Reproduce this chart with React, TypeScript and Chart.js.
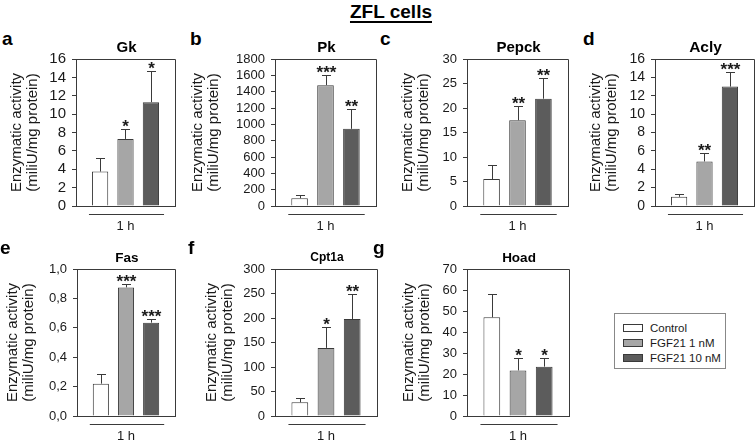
import React, { useEffect, useRef } from 'react';
import { Chart, registerables } from 'chart.js';

Chart.register(...registerables);
Chart.defaults.font.family = "'Liberation Sans', Arial, Helvetica, sans-serif";

// ---------------- data ----------------
const categories = ['1 h'];
const groupNames = ['Control', 'FGF21 1 nM', 'FGF21 10 nM'];
const groupFills = ['#ffffff', '#a6a6a6', '#5c5c5c'];

const gkMean = [3.75, 7.3, 11.3];
const gkErr = [1.5, 1.1, 3.4];
const gkSig = ['', '*', '*'];

const pkMean = [95, 1480, 945];
const pkErr = [35, 130, 245];
const pkSig = ['', '***', '**'];

const pepckMean = [5.5, 17.5, 21.9];
const pepckErr = [2.8, 3.0, 4.2];
const pepckSig = ['', '**', '**'];

const aclyMean = [1.0, 4.85, 13.0];
const aclyErr = [0.3, 0.9, 1.6];
const aclySig = ['', '**', '***'];

const fasMean = [0.22, 0.875, 0.635];
const fasErr = [0.065, 0.025, 0.025];
const fasSig = ['', '***', '***'];

const cptMean = [28, 139, 198];
const cptErr = [9, 42, 51];
const cptSig = ['', '*', '**'];

const hoadMean = [47, 21.7, 23.5];
const hoadErr = [11.2, 6, 4.3];
const hoadSig = ['', '*', '*'];

const yTitle = ['Enzymatic activity', '(miliU/mg protein)'];
const mainTitle = 'ZFL cells';

// ---------------- layout ----------------
const AXIS = '#3a3a3a';
const TXT = '#1a1a1a';
const FONT = "'Liberation Sans', Arial, Helvetica, sans-serif";

type Panel = {
  letter: string; lx: number; ly: number;
  title: string; mean: number[]; err: number[]; sig: string[];
  max: number; step: number; comma?: boolean;
  L: number; T: number; R: number; B: number; titleX: number;
  tick: number; titleSize: number;
};

const panels: Panel[] = [
  { letter: 'a', lx: 2, ly: 29, title: 'Gk', mean: gkMean, err: gkErr, sig: gkSig, max: 16, step: 2,
    L: 76, T: 59, R: 175, B: 206, titleX: 17, tick: 15, titleSize: 15 },
  { letter: 'b', lx: 190, ly: 29, title: 'Pk', mean: pkMean, err: pkErr, sig: pkSig, max: 1800, step: 200,
    L: 275, T: 59, R: 376, B: 206, titleX: 198, tick: 13, titleSize: 15 },
  { letter: 'c', lx: 380, ly: 29, title: 'Pepck', mean: pepckMean, err: pepckErr, sig: pepckSig, max: 30, step: 5,
    L: 467, T: 59, R: 568, B: 206, titleX: 408, tick: 13, titleSize: 15 },
  { letter: 'd', lx: 583, ly: 29, title: 'Acly', mean: aclyMean, err: aclyErr, sig: aclySig, max: 16, step: 2,
    L: 655, T: 59, R: 754, B: 206, titleX: 596, tick: 14, titleSize: 15.5 },
  { letter: 'e', lx: 0, ly: 238, title: 'Fas', mean: fasMean, err: fasErr, sig: fasSig, max: 1, step: 0.2, comma: true,
    L: 77, T: 269, R: 175, B: 416, titleX: 13, tick: 13, titleSize: 13.5 },
  { letter: 'f', lx: 188, ly: 238, title: 'Cpt1a', mean: cptMean, err: cptErr, sig: cptSig, max: 300, step: 50,
    L: 275, T: 269, R: 377, B: 416, titleX: 212, tick: 13, titleSize: 12 },
  { letter: 'g', lx: 373, ly: 238, title: 'Hoad', mean: hoadMean, err: hoadErr, sig: hoadSig, max: 70, step: 10,
    L: 467, T: 269, R: 569, B: 416, titleX: 409, tick: 13, titleSize: 13.5 },
];

const TOP_PAD = 30;
const BOTTOM_PAD = 36;
const RIGHT_PAD = 4;

function extrasPlugin(p: Panel) {
  return {
    id: 'extras',
    afterDatasetsDraw(chart: any) {
      const ctx = chart.ctx;
      const ys = chart.scales.y;
      const { left, right, top, bottom } = chart.chartArea;
      ctx.save();
      ctx.strokeStyle = AXIS;
      ctx.lineWidth = 1;
      // frame top + right
      ctx.beginPath();
      ctx.moveTo(Math.round(left), Math.round(top) + 0.5);
      ctx.lineTo(Math.round(right) + 0.5, Math.round(top) + 0.5);
      ctx.lineTo(Math.round(right) + 0.5, Math.round(bottom));
      ctx.stroke();
      // panel title centred over the plot area
      ctx.font = `bold ${p.titleSize}px ${FONT}`;
      ctx.fillStyle = '#000';
      ctx.textAlign = 'center';
      ctx.textBaseline = 'middle';
      ctx.fillText(p.title, (left + right) / 2 + 1, top - 11);
      // error bars + significance
      chart.data.datasets.forEach((ds: any, i: number) => {
        const meta = chart.getDatasetMeta(i);
        meta.data.forEach((bar: any, j: number) => {
          const v = ds.data[j];
          const e = p.err[i];
          const x = Math.round(bar.x) + 0.5;
          const yTop = Math.round(ys.getPixelForValue(v + e)) + 0.5;
          const yBar = ys.getPixelForValue(v);
          ctx.beginPath();
          ctx.moveTo(x, yBar);
          ctx.lineTo(x, yTop);
          ctx.moveTo(x - 4.5, yTop);
          ctx.lineTo(x + 4.5, yTop);
          ctx.stroke();
          const s = p.sig[i];
          if (s) {
            const fs = 17;
            ctx.font = `bold ${fs}px ${FONT}`;
            ctx.fillStyle = TXT;
            ctx.textAlign = 'center';
            ctx.textBaseline = 'alphabetic';
            ctx.fillText(s, x, yTop + 2);
          }
        });
      });
      // underline below the group
      const m0 = chart.getDatasetMeta(0).data[0];
      const m2 = chart.getDatasetMeta(chart.data.datasets.length - 1).data[0];
      const x0 = m0.x - m0.width / 2 - 3;
      const x1 = m2.x + m2.width / 2 + 5;
      const yl = Math.round(bottom + 8) + 0.5;
      ctx.beginPath();
      ctx.moveTo(x0, yl);
      ctx.lineTo(x1, yl);
      ctx.stroke();
      ctx.restore();
    },
  };
}

function PanelChart({ p }: { p: Panel }) {
  const ref = useRef<HTMLCanvasElement>(null);
  const left = p.titleX - 10;
  const top = p.T - TOP_PAD;
  const width = p.R - left + RIGHT_PAD;
  const height = p.B - p.T + TOP_PAD + BOTTOM_PAD;
  const yW = p.L - left;

  useEffect(() => {
    if (!ref.current) return;
    const chart = new Chart(ref.current, {
      type: 'bar',
      data: {
        labels: categories,
        datasets: groupNames.map((name, i) => ({
          label: name,
          data: [p.mean[i]],
          backgroundColor: groupFills[i],
          borderColor: AXIS,
          borderWidth: 1,
          categoryPercentage: 0.77,
          barPercentage: 0.64,
        })),
      },
      options: {
        responsive: false,
        animation: false,
        devicePixelRatio: 1,
        layout: { padding: { left: 0, right: RIGHT_PAD, top: TOP_PAD, bottom: 0 } },
        plugins: {
          legend: { display: false },
          tooltip: { enabled: false },
          title: { display: false },
        },
        scales: {
          x: {
            grid: { display: false, drawTicks: false },
            border: { display: true, color: AXIS, width: 1 },
            ticks: { color: TXT, font: { size: 13 }, padding: 13 },
            afterFit: (s: any) => { s.height = BOTTOM_PAD; },
          },
          y: {
            min: 0,
            max: p.max,
            grid: { drawOnChartArea: false, drawTicks: true, tickLength: 4, color: AXIS },
            border: { display: true, color: AXIS, width: 1 },
            ticks: {
              stepSize: p.step,
              autoSkip: false,
              color: TXT,
              padding: 6,
              font: { size: p.tick },
              callback: (v: any) => p.comma ? Number(v).toFixed(1).replace('.', ',') : String(Math.round(Number(v))),
            },
            title: {
              display: true,
              text: yTitle,
              color: TXT,
              font: { size: 15, lineHeight: 1.07 },
              padding: { top: 2, bottom: 0 },
            },
            afterFit: (s: any) => { s.width = yW; },
          },
        },
      },
      plugins: [extrasPlugin(p)],
    } as any);
    return () => chart.destroy();
  }, []);

  return (
    <canvas
      ref={ref}
      width={width}
      height={height}
      style={{ position: 'absolute', left, top, width, height }}
    />
  );
}

export default function App() {
  return (
    <div style={{ position: 'absolute', left: 0, top: 0, width: 755, height: 442, background: '#fff', overflow: 'hidden', fontFamily: FONT }}>
      <div style={{ position: 'absolute', left: 0, width: 782, top: 2, textAlign: 'center', fontWeight: 'bold', fontSize: 19, lineHeight: '19px', color: '#000' }}>
        <span style={{ textDecoration: 'underline', textUnderlineOffset: 3, textDecorationThickness: 2 }}>{mainTitle}</span>
      </div>
      {panels.map((p) => (
        <React.Fragment key={p.letter}>
          <div style={{ position: 'absolute', left: p.lx, top: p.ly, fontWeight: 'bold', fontSize: 19, lineHeight: '19px', color: '#000' }}>{p.letter}</div>
          <PanelChart p={p} />
        </React.Fragment>
      ))}
      <div style={{ position: 'absolute', left: 614, top: 313, width: 112, height: 56, border: '1px solid #888', boxSizing: 'border-box', background: '#fff' }}>
        {groupNames.map((name, i) => (
          <div key={name} style={{ position: 'absolute', left: 8, top: 7 + i * 15, height: 14, display: 'flex', alignItems: 'center', whiteSpace: 'nowrap' }}>
            <div style={{ width: 20, height: 8, background: groupFills[i], border: `1px solid ${AXIS}`, boxSizing: 'border-box' }} />
            <span style={{ marginLeft: 7, fontSize: 11.5, color: TXT }}>{name}</span>
          </div>
        ))}
      </div>
    </div>
  );
}
